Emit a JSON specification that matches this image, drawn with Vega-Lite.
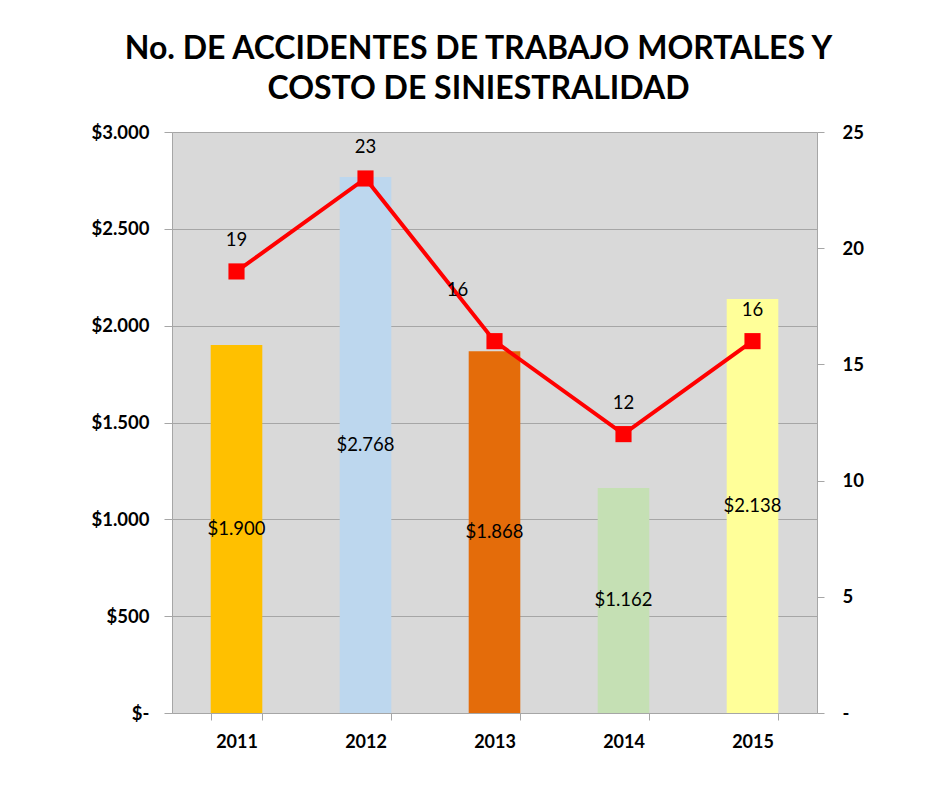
{
  "$schema": "https://vega.github.io/schema/vega-lite/v6.json",
  "autosize": "none",
  "width": 645,
  "height": 581,
  "padding": {"left": 172, "top": 132, "right": 121, "bottom": 76},
  "background": "white",
  "config": {
    "font": "Lato",
    "locale": {"number": {"decimal": ",", "thousands": ".", "grouping": [3], "currency": ["$", ""]}},
    "view": {"fill": "#d9d9d9", "stroke": null},
    "axis": {"labelFont": "Lato", "labelFontWeight": "bold", "labelFontSize": 18.5, "labelColor": "#000000", "domainColor": "#a6a6a6", "tickColor": "#a6a6a6", "gridColor": "#a6a6a6", "title": null}
  },
  "title": {
    "text": ["No. DE ACCIDENTES DE TRABAJO MORTALES Y", "COSTO DE SINIESTRALIDAD"],
    "font": "Lato",
    "fontSize": 32,
    "fontWeight": "bold",
    "color": "#000000",
    "anchor": "middle",
    "dx": -16,
    "offset": 17,
    "lineHeight": 40
  },
  "data": {
    "values": [
      {"year": "2011", "cost": 1900, "accidents": 19},
      {"year": "2012", "cost": 2768, "accidents": 23},
      {"year": "2013", "cost": 1868, "accidents": 16},
      {"year": "2014", "cost": 1162, "accidents": 12},
      {"year": "2015", "cost": 2138, "accidents": 16}
    ]
  },
  "encoding": {
    "x": {
      "field": "year", "type": "nominal", "sort": null,
      "scale": {"paddingInner": 0.6, "paddingOuter": 0.3},
      "axis": {"labelAngle": 0, "tickBand": "extent", "tickSize": 7, "labelPadding": 13, "labelFontSize": 18, "domainColor": "#a6a6a6"}
    }
  },
  "layer": [
    {
      "layer": [
        {
          "mark": {"type": "bar"},
          "encoding": {
            "y": {
              "field": "cost", "type": "quantitative",
              "scale": {"domain": [0, 3000], "nice": false},
              "axis": {"orient": "left", "values": [0, 500, 1000, 1500, 2000, 2500, 3000], "format": "$,.0f", "labelExpr": "datum.value == 0 ? '$-' : datum.label", "grid": true, "tickSize": 8, "labelPadding": 15, "domain": true}
            },
            "color": {
              "field": "year", "type": "nominal", "sort": null, "legend": null,
              "scale": {"range": ["#ffc000", "#bdd7ee", "#e46c0a", "#c5e0b4", "#ffff99"]}
            }
          }
        },
        {
          "mark": {"type": "text", "fontSize": 18.5, "color": "#000000", "baseline": "middle"},
          "encoding": {
            "y": {"field": "cost", "type": "quantitative", "stack": "zero", "bandPosition": 0.5},
            "text": {"field": "cost", "type": "quantitative", "format": "$,.0f"}
          }
        }
      ]
    },
    {
      "layer": [
        {
          "mark": {"type": "line", "color": "#ff0000", "strokeWidth": 4, "point": {"shape": "square", "size": 260, "filled": true, "color": "#ff0000", "opacity": 1}},
          "encoding": {
            "y": {
              "field": "accidents", "type": "quantitative",
              "scale": {"domain": [0, 25], "nice": false},
              "axis": {"orient": "right", "values": [0, 5, 10, 15, 20, 25], "labelExpr": "datum.value == 0 ? '-' : datum.label", "grid": false, "tickSize": 7, "labelPadding": 18, "domain": true}
            }
          }
        },
        {
          "transform": [{"filter": "datum.year != '2013'"}],
          "mark": {"type": "text", "fontSize": 18.5, "color": "#000000", "baseline": "middle", "dy": -31},
          "encoding": {
            "y": {"field": "accidents", "type": "quantitative"},
            "text": {"field": "accidents", "type": "quantitative"}
          }
        },
        {
          "transform": [{"filter": "datum.year == '2013'"}],
          "mark": {"type": "text", "fontSize": 18.5, "color": "#000000", "baseline": "middle", "dx": -37, "dy": -51},
          "encoding": {
            "y": {"field": "accidents", "type": "quantitative"},
            "text": {"field": "accidents", "type": "quantitative"}
          }
        }
      ]
    }
  ],
  "resolve": {"scale": {"y": "independent", "color": "independent"}}
}
